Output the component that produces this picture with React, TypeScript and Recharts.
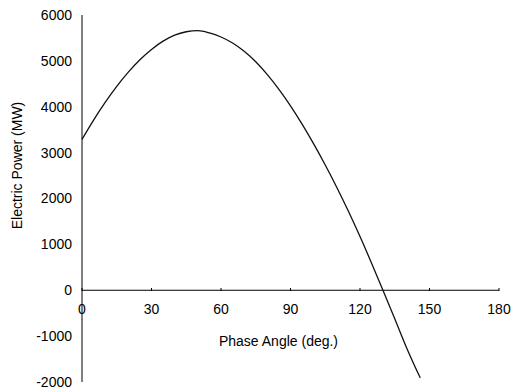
import { LineChart, Line, XAxis, YAxis, ReferenceLine, Label } from 'recharts'

const angles = [0, 5, 10, 15, 20, 25, 30, 35, 40, 45, 50, 55, 60, 65, 70, 75, 80, 85, 90, 95, 100, 105, 110, 115, 120, 125, 130, 135, 140, 146]
const power = [3290, 3710, 4095, 4445, 4755, 5025, 5250, 5430, 5560, 5635, 5660, 5610, 5520, 5390, 5210, 4980, 4700, 4380, 4020, 3620, 3190, 2730, 2240, 1720, 1170, 590, -10, -620, -1240, -1910]
const xTicks = [0, 30, 60, 90, 120, 150, 180]
const yTicks = [-2000, -1000, 0, 1000, 2000, 3000, 4000, 5000, 6000]

const data = angles.map((a, i) => ({ angle: a, power: power[i] }))

const font = 'Arial, "Liberation Sans", sans-serif'

// x labels sit under the zero line, not at the bottom of the plot
function XTick(props: any) {
  const { x, y, payload } = props
  return (
    <g>
      <line x1={x} x2={x} y1={y - 99} y2={y - 102} stroke="#000" />
      <text x={x} y={y - 76} textAnchor="middle" fontSize={14} fontFamily={font} fill="#000">
        {payload.value}
      </text>
    </g>
  )
}

export default function App() {
  return (
    <div style={{ position: 'absolute', left: 0, top: 0, background: '#fff' }}>
      <LineChart width={512} height={390} data={data} margin={{ top: 15, right: 13, bottom: 7, left: 0 }}>
        <XAxis
          dataKey="angle"
          type="number"
          domain={[0, 180]}
          ticks={xTicks}
          interval={0}
          axisLine={false}
          tickLine={false}
          height={1}
          tick={<XTick />}
        />
        <YAxis
          type="number"
          domain={[-2000, 6000]}
          ticks={yTicks}
          interval={0}
          width={82}
          axisLine={{ stroke: '#000' }}
          tickLine={false}
          tickMargin={4}
          tick={{ fontSize: 14, fontFamily: font, fill: '#000' }}
        >
          <Label
            content={(p: any) => {
              const vb = p.viewBox
              const cx = 17
              const cy = vb.y + vb.height / 2 - 33
              return (
                <text
                  x={cx}
                  y={cy}
                  transform={`rotate(-90 ${cx} ${cy})`}
                  textAnchor="middle"
                  dominantBaseline="central"
                  fontSize={14}
                  fontFamily={font}
                  fill="#000"
                >
                  Electric Power (MW)
                </text>
              )
            }}
          />
        </YAxis>
        <ReferenceLine y={0} stroke="#000" strokeWidth={1.2}>
          <Label
            value="Phase Angle (deg.)"
            position="bottom"
            offset={46}
            dx={-12}
            fontSize={14}
            fontFamily={font}
            fill="#000"
          />
        </ReferenceLine>
        <Line
          type="monotone"
          dataKey="power"
          stroke="#111"
          strokeWidth={1.3}
          dot={false}
          isAnimationActive={false}
        />
      </LineChart>
    </div>
  )
}
